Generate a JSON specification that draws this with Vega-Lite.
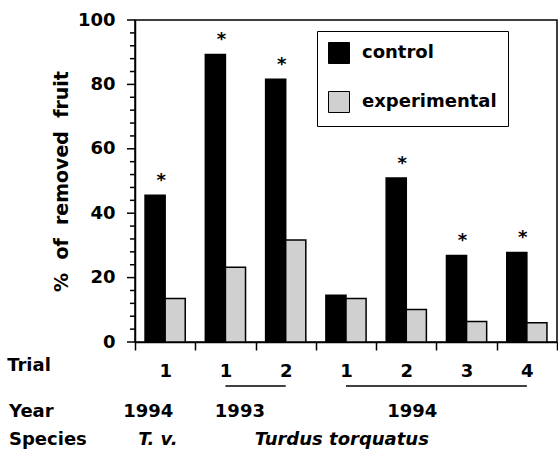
{
  "$schema": "https://vega.github.io/schema/vega-lite/v6.json",
  "width": 422,
  "height": 322,
  "autosize": {"type": "none"},
  "padding": {"left": 135, "top": 20, "right": 1, "bottom": 110},
  "config": {
    "font": "DejaVu Sans",
    "view": {"stroke": "black", "strokeWidth": 1.5},
    "axis": {"tickColor": "black", "tickWidth": 1.5, "domainColor": "black", "domainWidth": 1.5, "grid": false, "labelFont": "DejaVu Sans", "titleFont": "DejaVu Sans"},
    "legend": {"labelFont": "DejaVu Sans"},
    "text": {"font": "DejaVu Sans", "fontWeight": "bold", "fontSize": 18, "color": "black"}
  },
  "datasets": {
    "bars": [
      {"grp": "1", "series": "control", "value": 45.6, "sig": "*"},
      {"grp": "1", "series": "experimental", "value": 13.5, "sig": ""},
      {"grp": "2", "series": "control", "value": 89.3, "sig": "*"},
      {"grp": "2", "series": "experimental", "value": 23.2, "sig": ""},
      {"grp": "3", "series": "control", "value": 81.6, "sig": "*"},
      {"grp": "3", "series": "experimental", "value": 31.7, "sig": ""},
      {"grp": "4", "series": "control", "value": 14.5, "sig": ""},
      {"grp": "4", "series": "experimental", "value": 13.5, "sig": ""},
      {"grp": "5", "series": "control", "value": 50.9, "sig": "*"},
      {"grp": "5", "series": "experimental", "value": 10.1, "sig": ""},
      {"grp": "6", "series": "control", "value": 26.9, "sig": "*"},
      {"grp": "6", "series": "experimental", "value": 6.4, "sig": ""},
      {"grp": "7", "series": "control", "value": 27.8, "sig": "*"},
      {"grp": "7", "series": "experimental", "value": 6.0, "sig": ""}
    ],
    "spans": [
      {"from": "2", "to": "3"},
      {"from": "4", "to": "7"}
    ],
    "notes": [
      {"label": "Trial", "pos": -2.12, "lvl": -7.4, "kind": "head"},
      {"label": "Year", "pos": -2.09, "lvl": -21.7, "kind": "head"},
      {"label": "Species", "pos": -2.09, "lvl": -30.4, "kind": "head"},
      {"label": "1994", "pos": 0.22, "lvl": -21.7, "kind": "year"},
      {"label": "1993", "pos": 1.74, "lvl": -21.7, "kind": "year"},
      {"label": "1994", "pos": 4.6, "lvl": -21.7, "kind": "year"},
      {"label": "T. v.", "pos": 0.38, "lvl": -30.4, "kind": "species"},
      {"label": "Turdus torquatus", "pos": 3.43, "lvl": -30.4, "kind": "species"}
    ],
    "yticks": [
      {"v": 0, "kind": "major"}, {"v": 20, "kind": "major"}, {"v": 40, "kind": "major"},
      {"v": 60, "kind": "major"}, {"v": 80, "kind": "major"}, {"v": 100, "kind": "major"},
      {"v": 4, "kind": "minor"}, {"v": 8, "kind": "minor"}, {"v": 12, "kind": "minor"}, {"v": 16, "kind": "minor"},
      {"v": 24, "kind": "minor"}, {"v": 28, "kind": "minor"}, {"v": 32, "kind": "minor"}, {"v": 36, "kind": "minor"},
      {"v": 44, "kind": "minor"}, {"v": 48, "kind": "minor"}, {"v": 52, "kind": "minor"}, {"v": 56, "kind": "minor"},
      {"v": 64, "kind": "minor"}, {"v": 68, "kind": "minor"}, {"v": 72, "kind": "minor"}, {"v": 76, "kind": "minor"},
      {"v": 84, "kind": "minor"}, {"v": 88, "kind": "minor"}, {"v": 92, "kind": "minor"}, {"v": 96, "kind": "minor"}
    ]
  },
  "layer": [
    {
      "data": {"name": "bars"},
      "layer": [
        {
          "mark": {"type": "bar", "stroke": "black", "strokeWidth": 1.5},
          "encoding": {
            "x": {
              "field": "grp", "type": "nominal",
              "scale": {"domain": ["1", "2", "3", "4", "5", "6", "7"], "paddingInner": 0, "paddingOuter": 0},
              "axis": {
                "title": null,
                "labelExpr": "['1','1','2','1','2','3','4'][toNumber(datum.value)-1]",
                "labelAngle": 0,
                "labelFontSize": 18,
                "labelFontWeight": "bold",
                "labelColor": "black",
                "labelPadding": 12,
                "tickBand": "extent",
                "tickSize": 8
              }
            },
            "xOffset": {"field": "series", "scale": {"paddingOuter": 0.5, "paddingInner": 0}},
            "y": {
              "field": "value", "type": "quantitative",
              "scale": {"domain": [0, 100]},
              "axis": {
                "values": [0, 20, 40, 60, 80, 100],
                "ticks": false,
                "labelFontSize": 18,
                "labelFontWeight": "bold",
                "labelColor": "black",
                "labelPadding": 20,
                "title": "%\u00a0\u00a0of\u00a0\u00a0removed\u00a0\u00a0fruit",
                "titleFontSize": 19,
                "titleFontWeight": "bold",
                "titleColor": "black",
                "titlePadding": 6
              }
            },
            "color": {
              "field": "series", "type": "nominal",
              "scale": {"domain": ["control", "experimental"], "range": ["black", "#d0d0d0"]},
              "legend": {
                "orient": "none",
                "legendX": 182,
                "legendY": 11,
                "title": null,
                "symbolType": "square",
                "symbolSize": 441,
                "symbolStrokeColor": "black",
                "symbolStrokeWidth": 1,
                "labelFont": "DejaVu Sans",
                "labelFontSize": 18,
                "labelFontWeight": "bold",
                "labelColor": "black",
                "labelOffset": 12,
                "rowPadding": 23,
                "padding": 11,
                "strokeColor": "black",
                "fillColor": "white"
              }
            }
          }
        },
        {
          "transform": [{"filter": "datum.sig === '*'"}],
          "mark": {"type": "text", "text": "*", "dx": 6, "dy": -9, "baseline": "alphabetic", "fontSize": 18},
          "encoding": {
            "x": {"field": "grp", "type": "nominal"},
            "xOffset": {"field": "series"},
            "y": {"field": "value", "type": "quantitative"}
          }
        },
        {
          "data": {"name": "spans"},
          "mark": {"type": "rule", "strokeWidth": 1.5, "color": "black"},
          "encoding": {
            "x": {"field": "from", "type": "nominal"},
            "x2": {"field": "to"},
            "y": {"datum": -13.7, "type": "quantitative"}
          }
        },
        {
          "data": {"name": "yticks"},
          "transform": [{"filter": "datum.kind === 'major'"}],
          "mark": {"type": "tick", "orient": "horizontal", "size": 8, "thickness": 1.5, "color": "black", "opacity": 1, "xOffset": -34.15},
          "encoding": {
            "x": {"datum": "1", "type": "nominal"},
            "y": {"field": "v", "type": "quantitative"}
          }
        },
        {
          "data": {"name": "yticks"},
          "transform": [{"filter": "datum.kind === 'minor'"}],
          "mark": {"type": "tick", "orient": "horizontal", "size": 5, "thickness": 1.5, "color": "black", "opacity": 1, "xOffset": -32.65},
          "encoding": {
            "x": {"datum": "1", "type": "nominal"},
            "y": {"field": "v", "type": "quantitative"}
          }
        }
      ]
    },
    {
      "data": {"name": "notes"},
      "encoding": {
        "x": {"field": "pos", "type": "quantitative", "scale": {"domain": [0, 7], "nice": false, "zero": false}, "axis": null},
        "y": {"field": "lvl", "type": "quantitative", "scale": {"domain": [0, 100]}, "axis": null},
        "text": {"field": "label"}
      },
      "layer": [
        {"transform": [{"filter": "datum.kind === 'head'"}], "mark": {"type": "text", "align": "left", "baseline": "middle"}},
        {"transform": [{"filter": "datum.kind === 'year'"}], "mark": {"type": "text", "align": "center", "baseline": "middle"}},
        {"transform": [{"filter": "datum.kind === 'species'"}], "mark": {"type": "text", "align": "center", "baseline": "middle", "fontStyle": "italic"}}
      ]
    }
  ],
  "resolve": {"scale": {"x": "independent", "y": "independent"}}
}
